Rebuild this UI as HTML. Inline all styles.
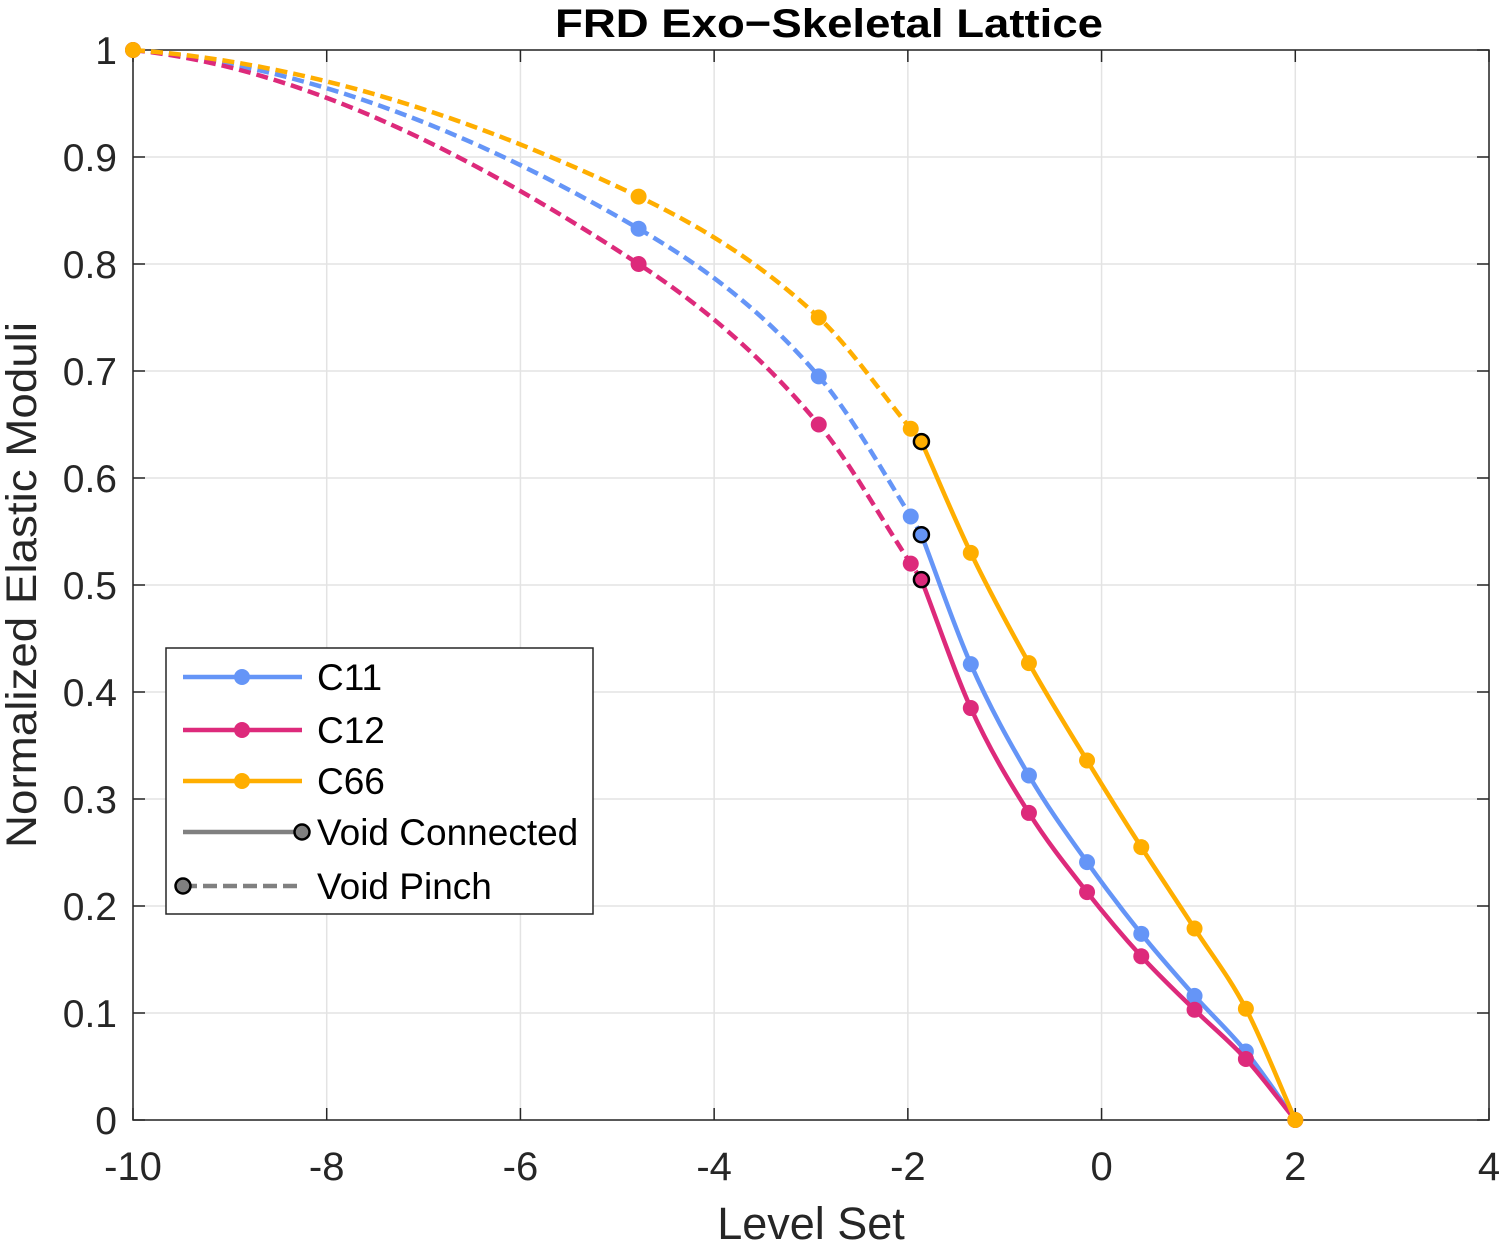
<!DOCTYPE html>
<html><head><meta charset="utf-8"><style>
body{margin:0;background:#fff}
svg{display:block;font-family:"Liberation Sans",Arial,sans-serif}
</style></head><body>
<svg id="chart" width="1501" height="1244"></svg>
<script>
const xTicks=[-10,-8,-6,-4,-2,0,2,4];
const yTicks=[0,0.1,0.2,0.3,0.4,0.5,0.6,0.7,0.8,0.9,1];
const yTickLabels=["0","0.1","0.2","0.3","0.4","0.5","0.6","0.7","0.8","0.9","1"];
const pinchX=[-10,-4.78,-2.92,-1.97,-1.86];
const connX=[-1.86,-1.35,-0.75,-0.15,0.41,0.96,1.49,2.0];
const c11Pinch=[1,0.833,0.695,0.564,0.547];
const c11Conn=[0.547,0.426,0.322,0.241,0.174,0.116,0.064,0];
const c12Pinch=[1,0.8,0.65,0.52,0.505];
const c12Conn=[0.505,0.385,0.287,0.213,0.153,0.103,0.057,0];
const c66Pinch=[1,0.863,0.75,0.646,0.634];
const c66Conn=[0.634,0.53,0.427,0.336,0.255,0.179,0.104,0];
const seriesNames=["C11","C12","C66"];
const colors=["#6595f7","#dd2a7b","#ffae00"];

const L=133,R=1489,T=50,B=1120;
const X=v=>L+(v+10)/14*(R-L);
const Y=v=>B-v*(B-T);
const svg=document.getElementById('chart');
const NS='http://www.w3.org/2000/svg';
function mk(tag,attrs,parent){const e=document.createElementNS(NS,tag);for(const k in attrs)e.setAttribute(k,attrs[k]);(parent||svg).appendChild(e);return e;}

const grid=mk('g',{});


xTicks.forEach(t=>{mk('line',{x1:X(t),x2:X(t),y1:T,y2:B,stroke:'#e3e3e3','stroke-width':1.5},grid);});
yTicks.forEach(t=>{mk('line',{x1:L,x2:R,y1:Y(t),y2:Y(t),stroke:'#e3e3e3','stroke-width':1.5},grid);});
const box=mk('rect',{x:L,y:T,width:R-L,height:B-T,fill:'none',stroke:'#262626','stroke-width':1.5});


xTicks.forEach(t=>{
  mk('line',{x1:X(t),x2:X(t),y1:B,y2:B-12,stroke:'#262626','stroke-width':1.5});
  mk('line',{x1:X(t),x2:X(t),y1:T,y2:T+12,stroke:'#262626','stroke-width':1.5});
  const tx=mk('text',{x:X(t),y:B+60,'text-anchor':'middle','font-size':40,fill:'#262626'});
  tx.textContent=String(t);
  
  
});
yTicks.forEach((t,i)=>{
  mk('line',{x1:L,x2:L+12,y1:Y(t),y2:Y(t),stroke:'#262626','stroke-width':1.5});
  mk('line',{x1:R,x2:R-12,y1:Y(t),y2:Y(t),stroke:'#262626','stroke-width':1.5});
  const ty=mk('text',{x:L-16,y:Y(t)+14,'text-anchor':'end','font-size':39,fill:'#262626'});
  ty.textContent=yTickLabels[i];
  
  
});
const title=mk('text',{x:555,y:37,'font-size':40,'font-weight':'bold',fill:'#000',textLength:548,lengthAdjust:'spacingAndGlyphs'});
title.textContent='FRD Exo\u2212Skeletal Lattice';


const xl=mk('text',{x:811,y:1239,'text-anchor':'middle','font-size':45,fill:'#262626'});
xl.textContent='Level Set';


const yl=mk('text',{x:-263,y:0,'font-size':43,fill:'#262626',textLength:526,lengthAdjust:'spacingAndGlyphs',transform:'translate(36,585) rotate(-90)'});
yl.textContent='Normalized Elastic Moduli';



function smoothPath(xs,ys,flatStart){
  const px=xs.map(X),py=ys.map(Y),n=px.length;
  const d=[],m=[];
  for(let i=0;i<n-1;i++)d.push((py[i+1]-py[i])/(px[i+1]-px[i]));
  m[0]=flatStart?0.25*d[0]:d[0];m[n-1]=d[n-2];
  for(let i=1;i<n-1;i++){m[i]=(d[i-1]*d[i]<=0)?0:(d[i-1]+d[i])/2;}
  for(let i=0;i<n-1;i++){if(d[i]===0){m[i]=m[i+1]=0;continue;}const a=m[i]/d[i],b=m[i+1]/d[i],s=a*a+b*b;if(s>9){const t=3/Math.sqrt(s);m[i]=t*a*d[i];m[i+1]=t*b*d[i];}}
  let p='M'+px[0]+','+py[0];
  for(let i=0;i<n-1;i++){const h=(px[i+1]-px[i])/3;p+=' C'+(px[i]+h)+','+(py[i]+m[i]*h)+' '+(px[i+1]-h)+','+(py[i+1]-m[i+1]*h)+' '+px[i+1]+','+py[i+1];}
  return p;
}
const pinchData=[c11Pinch,c12Pinch,c66Pinch],connData=[c11Conn,c12Conn,c66Conn];
seriesNames.forEach((nm,s)=>{
  const g=mk('g',{});
  
  
  mk('path',{d:smoothPath(pinchX,pinchData[s],true),fill:'none',stroke:colors[s],'stroke-width':4.5,'stroke-dasharray':'12,6'},g);
  mk('path',{d:smoothPath(connX,connData[s],false),fill:'none',stroke:colors[s],'stroke-width':4.5},g);
  pinchX.forEach((x,i)=>{if(i===pinchX.length-1)return;const c=mk('circle',{cx:X(x),cy:Y(pinchData[s][i]),r:8,fill:colors[s]},g);});
  connX.forEach((x,i)=>{if(i===0)return;const c=mk('circle',{cx:X(x),cy:Y(connData[s][i]),r:8,fill:colors[s]},g);});
  const pc=mk('circle',{cx:X(connX[0]),cy:Y(connData[s][0]),r:7.5,fill:colors[s],stroke:'#000','stroke-width':2.5},g);
  
  
});
const lg=mk('g',{});


mk('rect',{x:166,y:648,width:427,height:266,fill:'#fff',stroke:'#262626','stroke-width':1.5},lg);
const entries=[["C11",colors[0],0],["C12",colors[1],0],["C66",colors[2],0],["Void Connected","#808080",1],["Void Pinch","#808080",2]];
const ys=[677,730,781,832,886];
entries.forEach((e,i)=>{
  const eg=mk('g',{},lg);
  
  
  const y=ys[i];
  mk('line',{x1:183,x2:302,y1:y,y2:y,stroke:e[1],'stroke-width':4.5,'stroke-dasharray':e[2]===2?'14,6':'none'},eg);
  if(e[2]===0)mk('circle',{cx:242,cy:y,r:8,fill:e[1]},eg);
  if(e[2]===1)mk('circle',{cx:302,cy:y,r:7.5,fill:e[1],stroke:'#000','stroke-width':2.5},eg);
  if(e[2]===2)mk('circle',{cx:183,cy:y,r:7.5,fill:e[1],stroke:'#000','stroke-width':2.5},eg);
  const t=mk('text',{x:317,y:y+13,'font-size':37,fill:'#000'},eg);
  t.textContent=e[0];
});
</script>
</body></html>
